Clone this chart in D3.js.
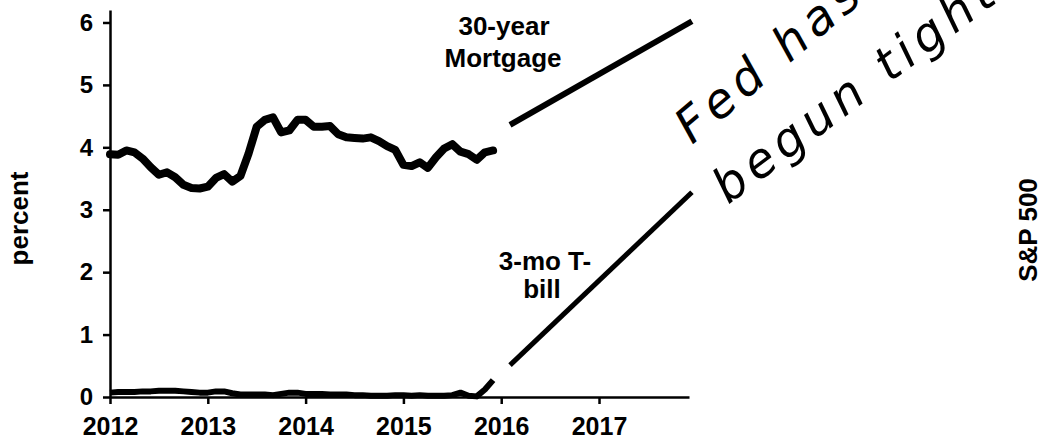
<!DOCTYPE html>
<html>
<head>
<meta charset="utf-8">
<script src="https://cdn.jsdelivr.net/npm/d3@7"></script>
<style>
  body { margin: 0; background: #fff; }
  svg { display: block; }
  .axisText { font-family: "Liberation Sans", Arial, sans-serif; font-weight: bold; font-size: 26px; fill: #000; }
  .tick text { font-family: "Liberation Sans", Arial, sans-serif; font-weight: bold; fill: #000; }
  .xAxis .tick text { font-size: 25px; }
  .yAxis .tick text { font-size: 24px; }
  .hand { font-family: "DejaVu Sans", sans-serif; font-weight: 200; font-style: italic; font-size: 48px; fill: #000; letter-spacing: 6px; }
</style>
</head>
<body>
<div id="chart"></div>
<script>
var svgWidth = 1038;
var svgHeight = 441;

var margin = { top: 10, left: 110 };
var width = 579;
var height = 387;

// monthly data, Jan 2012 .. Dec 2015
var startYear = 2012;
var mortgageRate = [
  3.89, 3.88, 3.95, 3.92, 3.82, 3.68, 3.56, 3.60, 3.52, 3.40, 3.35, 3.34,
  3.37, 3.51, 3.57, 3.45, 3.54, 3.90, 4.33, 4.44, 4.48, 4.24, 4.27, 4.44,
  4.44, 4.33, 4.33, 4.34, 4.21, 4.16, 4.15, 4.14, 4.16, 4.10, 4.02, 3.96,
  3.72, 3.70, 3.76, 3.67, 3.84, 3.98, 4.05, 3.93, 3.89, 3.80, 3.92, 3.95
];
var tbillRate = [
  0.07, 0.08, 0.08, 0.08, 0.09, 0.09, 0.10, 0.10, 0.10, 0.09, 0.08, 0.07,
  0.07, 0.09, 0.09, 0.06, 0.04, 0.04, 0.04, 0.04, 0.03, 0.05, 0.07, 0.07,
  0.05, 0.05, 0.05, 0.04, 0.04, 0.04, 0.03, 0.03, 0.02, 0.02, 0.02, 0.03,
  0.03, 0.02, 0.03, 0.02, 0.02, 0.02, 0.03, 0.07, 0.02, 0.01, 0.12, 0.27
];

// projected paths
var forecastYears = [2016.09, 2017.95];
var mortgageForecast = [4.36, 6.02];
var tbillForecast = [0.51, 3.28];

var xTicks = [2012, 2013, 2014, 2015, 2016, 2017];
var yTicks = [0, 1, 2, 3, 4, 5, 6];

var svg = d3.select("#chart")
  .append("svg")
  .attr("width", svgWidth)
  .attr("height", svgHeight);

var chartGroup = svg.append("g")
  .attr("transform", `translate(${margin.left}, ${margin.top})`);

// scales
var xScale = d3.scaleLinear()
  .domain([2012, 2017.92])
  .range([0, width]);

var yScale = d3.scaleLinear()
  .domain([0, 6.2])
  .range([height, 0]);

// axes
var xAxis = d3.axisBottom(xScale)
  .tickValues(xTicks)
  .tickFormat(d3.format("d"))
  .tickSizeInner(7)
  .tickSizeOuter(0)
  .tickPadding(13);

var yAxis = d3.axisLeft(yScale)
  .tickValues(yTicks)
  .tickFormat(d3.format("d"))
  .tickSizeInner(7)
  .tickSizeOuter(0)
  .tickPadding(10);

var xg = chartGroup.append("g")
  .attr("class", "xAxis")
  .attr("transform", `translate(0,${height})`)
  .call(xAxis);

var yg = chartGroup.append("g")
  .attr("class", "yAxis")
  .call(yAxis);

[xg, yg].forEach(function(g) {
  g.select(".domain").attr("stroke", "#000").attr("stroke-width", 2.5);
  g.selectAll(".tick line").attr("stroke", "#000").attr("stroke-width", 2.5);
});

// lines
var monthLine = d3.line()
  .x((d, i) => xScale(startYear + i / 12))
  .y(d => yScale(d));

var forecastLine = d3.line()
  .x((d, i) => xScale(forecastYears[i]))
  .y(d => yScale(d));

chartGroup.append("path")
  .datum(tbillRate)
  .attr("fill", "none")
  .attr("stroke", "#000")
  .attr("stroke-width", 6)
  .attr("stroke-linejoin", "round")
  .attr("d", monthLine);

chartGroup.append("path")
  .datum(mortgageRate)
  .attr("fill", "none")
  .attr("stroke", "#000")
  .attr("stroke-width", 8)
  .attr("stroke-linejoin", "round")
  .attr("stroke-linecap", "round")
  .attr("d", monthLine);

chartGroup.append("path")
  .datum(mortgageForecast)
  .attr("fill", "none")
  .attr("stroke", "#000")
  .attr("stroke-width", 6)
  .attr("d", forecastLine);

chartGroup.append("path")
  .datum(tbillForecast)
  .attr("fill", "none")
  .attr("stroke", "#000")
  .attr("stroke-width", 5)
  .attr("d", forecastLine);

// labels
chartGroup.append("text")
  .attr("class", "axisText")
  .attr("transform", `translate(-82, ${height / 2 + 15}) rotate(-90)`)
  .attr("text-anchor", "middle")
  .text("percent");

var mLabel = svg.append("text")
  .attr("class", "axisText")
  .attr("text-anchor", "middle");
mLabel.append("tspan").attr("x", 504).attr("y", 35).text("30-year");
mLabel.append("tspan").attr("x", 503).attr("y", 67).text("Mortgage");

var tLabel = svg.append("text")
  .attr("class", "axisText")
  .attr("text-anchor", "middle");
tLabel.append("tspan").attr("x", 545).attr("y", 270).text("3-mo T-");
tLabel.append("tspan").attr("x", 542).attr("y", 298).text("bill");

svg.append("text")
  .attr("class", "axisText")
  .attr("transform", "translate(1037, 230) rotate(-90)")
  .attr("text-anchor", "middle")
  .text("S&P 500");

// handwritten note
svg.append("text")
  .attr("class", "hand")
  .attr("transform", "translate(692, 145) rotate(-40)")
  .text("Fed has now");

svg.append("text")
  .attr("class", "hand")
  .attr("transform", "translate(728, 205) rotate(-37)")
  .text("begun tightening");
</script>
</body>
</html>
